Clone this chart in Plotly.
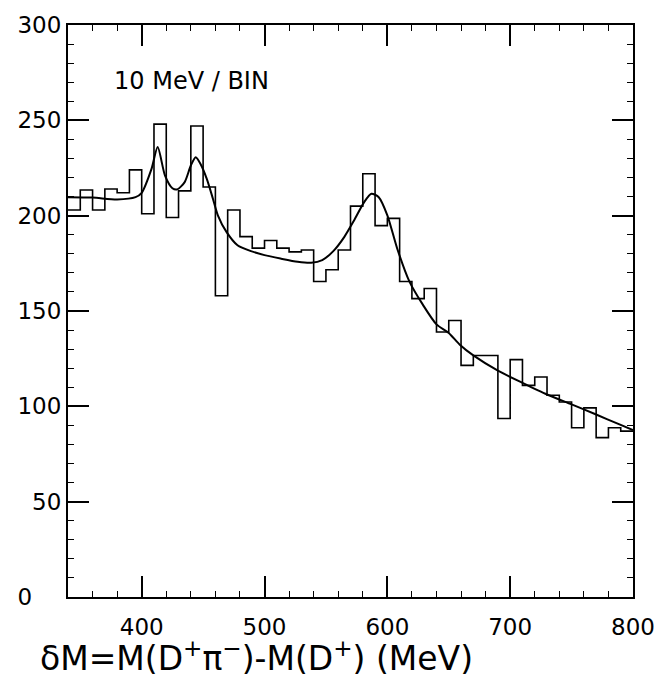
import numpy as np
import plotly.graph_objects as go

# Histogram: 10 MeV bins, lower edges
bin_lo = list(range(340, 800, 10))
counts = [203, 213.5, 203, 214, 212, 224, 201, 248, 199, 213,
          247, 215, 158, 203, 189, 183, 187, 183, 181, 182,
          165.5, 171.6, 182, 205, 222, 194.8, 198.6, 165.5, 156.5, 161.8,
          139, 145, 121.5, 126.7, 126.7, 93.6, 124.5, 111, 115.4, 105.8,
          102.3, 88.8, 99.2, 83.6, 88.8, 87]
bin_width = 10

# Fit curve
fit_x = [340, 360, 380, 395, 400, 408, 413, 419, 425, 429, 435, 440, 444, 448,
         453, 458, 462, 469, 478, 489, 500, 513, 527, 538, 547, 556, 565, 573,
         581, 587, 593, 600, 608, 618, 629, 640, 650, 659, 670, 690, 710, 730,
         750, 770, 789, 800]
fit_y = [209.7, 209.5, 208.5, 209.7, 212, 224.5, 236, 221, 214.4, 213.8, 217.6,
         226.3, 230.6, 227, 219.3, 208.9, 200.2, 191.5, 184.5, 181.4, 179.3,
         177.5, 175.8, 175.3, 176.7, 181.4, 188.9, 197.6, 207, 211.5, 209.7,
         200.2, 182.8, 165.4, 153.2, 143, 138.5, 132.3, 126.7, 118.7, 112.3,
         106.2, 101, 95.7, 90.5, 87.6]

x_ticks = [400, 500, 600, 700, 800]
y_ticks = [0, 50, 100, 150, 200, 250, 300]
y_ticktext = ["0\u2007\u2007", "50", "100", "150", "200", "250", "300"]

# step outline
step_x = bin_lo + [bin_lo[-1] + bin_width]
step_y = counts + [counts[-1]]

fig = go.Figure()
fig.add_trace(go.Scatter(x=step_x, y=step_y, mode="lines",
                         line=dict(shape="hv", color="black", width=1.6),
                         showlegend=False, hoverinfo="skip"))
fig.add_trace(go.Scatter(x=fit_x, y=fit_y, mode="lines",
                         line=dict(shape="spline", smoothing=0.7, color="black", width=2),
                         showlegend=False))

font_main = "DejaVu Sans"
axis_common = dict(showgrid=False, zeroline=False, showline=True, linecolor="black",
                   linewidth=2, mirror="allticks", ticks="inside", ticklen=21,
                   tickwidth=1.5, tickcolor="black",
                   tickfont=dict(family=font_main, size=23, color="black"))

fig.update_xaxes(range=[340, 800], tickvals=x_ticks, ticklabelstandoff=8,
                 minor=dict(dtick=20, tick0=0, ticks="inside", ticklen=6,
                            tickwidth=1.3, tickcolor="black"),
                 **axis_common)
fig.update_yaxes(range=[0, 300], tickvals=y_ticks, ticktext=y_ticktext,
                 minor=dict(dtick=10, tick0=0, ticks="inside", ticklen=6,
                            tickwidth=1.3, tickcolor="black"),
                 **axis_common)

fig.add_annotation(text="10 MeV / BIN", xref="paper", yref="paper",
                   x=(112 - 68) / 569, y=1 - (79 - 23) / 574,
                   xanchor="left", yanchor="middle", showarrow=False,
                   font=dict(family=font_main, size=24, color="black"))
fig.add_annotation(text="δM=M(D<sup>+</sup>π<sup>−</sup>)-M(D<sup>+</sup>) (MeV)",
                   xref="paper", yref="paper",
                   x=(38 - 68) / 569, y=-(657 - 597) / 574,
                   xanchor="left", yanchor="middle", showarrow=False,
                   font=dict(family=font_main, size=33, color="black"))

fig.update_layout(width=667, height=686, paper_bgcolor="white", plot_bgcolor="white",
                  margin=dict(l=68, r=30, t=23, b=89))

fig.write_html("out.html")
